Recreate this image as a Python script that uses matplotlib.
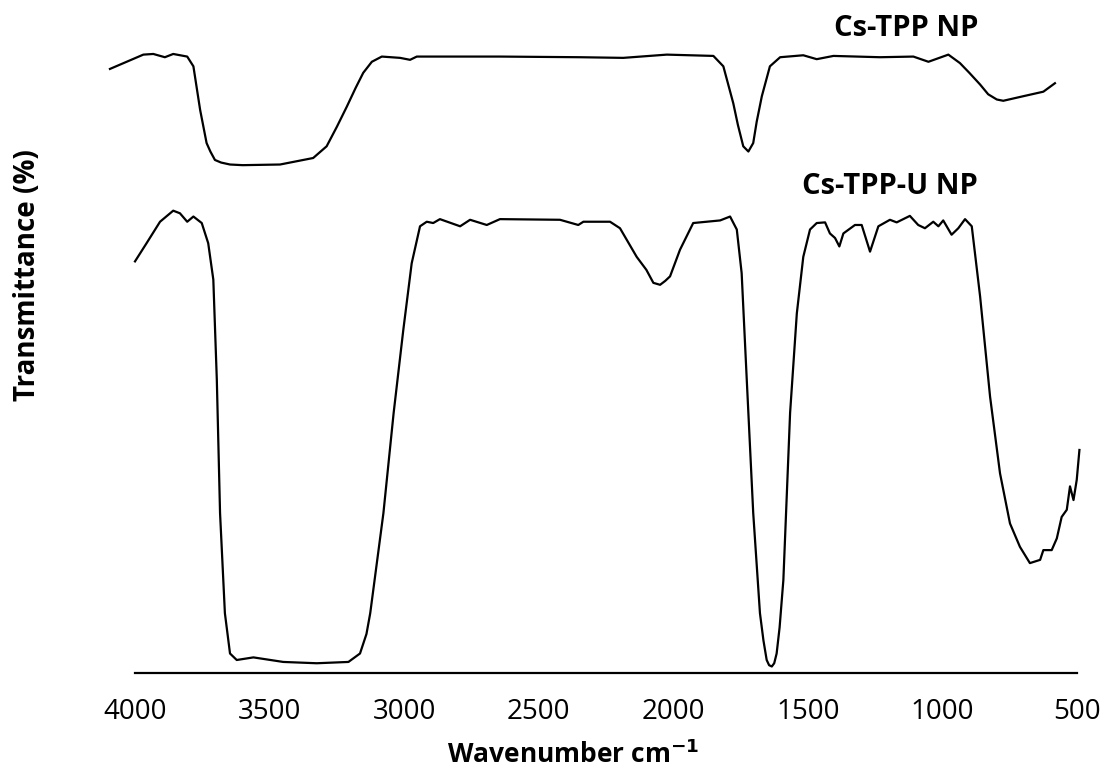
import matplotlib.pyplot as plt

plt.rcParams['font.family'] = ['Open Sans', 'DejaVu Sans']

# Cs-TPP NP (upper trace)
wn_tpp = [4093, 3969, 3932, 3889, 3858, 3806, 3783, 3758, 3734, 3720, 3703, 3680,
          3647, 3600, 3461, 3338, 3288, 3250, 3213, 3180, 3152, 3120, 3083, 3015,
          2978, 2953, 2644, 2347, 2186, 2024, 1851, 1814, 1777, 1760, 1740, 1721,
          1703, 1690, 1671, 1641, 1603, 1517, 1467, 1405, 1232, 1108, 1052, 978,
          935, 900, 860, 830, 798, 774, 700, 625, 582]
t_tpp = [92.9, 95.1, 95.2, 94.7, 95.2, 94.8, 93.3, 86.6, 81.5, 80.2, 78.9, 78.5,
         78.2, 78.1, 78.2, 79.2, 81.0, 84.0, 87.1, 90.0, 92.3, 94.0, 94.8, 94.6,
         94.3, 94.8, 94.8, 94.7, 94.6, 95.1, 94.9, 93.3, 87.6, 84.3, 81.0, 80.2,
         81.5, 84.8, 88.7, 93.3, 94.7, 95.0, 94.4, 94.9, 94.7, 94.8, 94.0, 95.1,
         93.8, 92.3, 90.5, 89.0, 88.2, 88.0, 88.7, 89.4, 90.7]

# Cs-TPP-U NP (lower trace)
wn_tppu = [4000, 3957, 3907, 3858, 3833, 3806, 3783, 3752, 3728, 3709, 3696, 3684,
           3666, 3647, 3622, 3560, 3449, 3325, 3207, 3164, 3140, 3126, 3077, 3039,
           3003, 2972, 2941, 2916, 2892, 2867, 2792, 2755, 2693, 2644, 2421, 2353,
           2334, 2235, 2198, 2136, 2100, 2074, 2049, 2030, 2012, 1975, 1926, 1876,
           1826, 1789, 1764, 1746, 1727, 1703, 1678, 1665, 1653, 1644, 1634, 1625,
           1616, 1605, 1591, 1566, 1541, 1517, 1492, 1467, 1436, 1418, 1399, 1383,
           1368, 1325, 1300, 1269, 1238, 1195, 1170, 1121, 1090, 1065, 1034, 1015,
           997, 966, 941, 916, 891, 860, 823, 786, 749, 712, 675, 637, 625, 594,
           575, 557, 538, 526, 513, 501, 491]
t_tppu = [63.3, 66.1, 69.4, 71.1, 70.7, 69.4, 70.2, 69.2, 66.1, 60.5, 45.1, 24.6,
          9.2, 3.0, 2.0, 2.4, 1.7, 1.5, 1.7, 3.0, 6.0, 9.2, 24.6, 40.0,
          52.8, 63.0, 68.7, 69.4, 69.2, 69.8, 68.7, 69.7, 68.9, 69.8, 69.7, 68.9,
          69.4, 69.4, 68.4, 64.0, 62.0, 60.0, 59.7, 60.3, 61.0, 65.1, 69.2, 69.4,
          69.6, 70.2, 68.2, 61.5, 45.1, 24.6, 9.2, 5.0, 2.0, 1.2, 1.0, 1.5,
          3.0, 7.0, 14.3, 40.0, 55.3, 64.0, 68.2, 69.2, 69.3, 67.6, 66.9, 65.6,
          67.6, 68.9, 68.9, 64.8, 68.7, 69.7, 69.3, 70.3, 68.9, 68.4, 69.4, 68.7,
          69.6, 67.4, 68.4, 69.8, 68.7, 57.9, 42.5, 30.7, 23.0, 19.4, 16.9, 17.4,
          18.9, 18.9, 20.7, 24.0, 25.1, 28.7, 26.6, 29.7, 34.3]

xticks = [4000, 3500, 3000, 2500, 2000, 1500, 1000, 500]

fig = plt.figure(figsize=(11.07, 7.71), dpi=100)
ax = fig.add_axes([135 / 1107, 98 / 771, 942 / 1107, 673 / 771])

ax.plot(wn_tpp, t_tpp, color='black', lw=1.6, clip_on=False)
ax.plot(wn_tppu, t_tppu, color='black', lw=1.6, clip_on=False)

ax.set_xlim(4000, 500)
ax.set_ylim(0, 103.5)
ax.set_xticks(xticks)
ax.set_xticklabels([str(v) for v in xticks], fontsize=20)
ax.tick_params(axis='x', length=0, pad=18)
ax.set_yticks([])

for s in ['top', 'right', 'left']:
    ax.spines[s].set_visible(False)
ax.spines['bottom'].set_linewidth(1.6)

fig.text(978 / 1107, 1 - 28 / 771, 'Cs-TPP NP', fontsize=21, fontweight='bold',
         ha='right', va='center')
fig.text(978 / 1107, 1 - 187 / 771, 'Cs-TPP-U NP', fontsize=21, fontweight='bold',
         ha='right', va='center')

fig.text(573 / 1107, 1 - 755 / 771, 'Wavenumber cm$^{\\mathbf{-1}}$', fontsize=19,
         fontweight='bold', ha='center', va='center')
fig.text(28 / 1107, 1 - 275 / 771, 'Transmittance (%)', fontsize=20,
         fontweight='bold', ha='center', va='center', rotation=90)

fig.savefig('out.png', dpi=100)
